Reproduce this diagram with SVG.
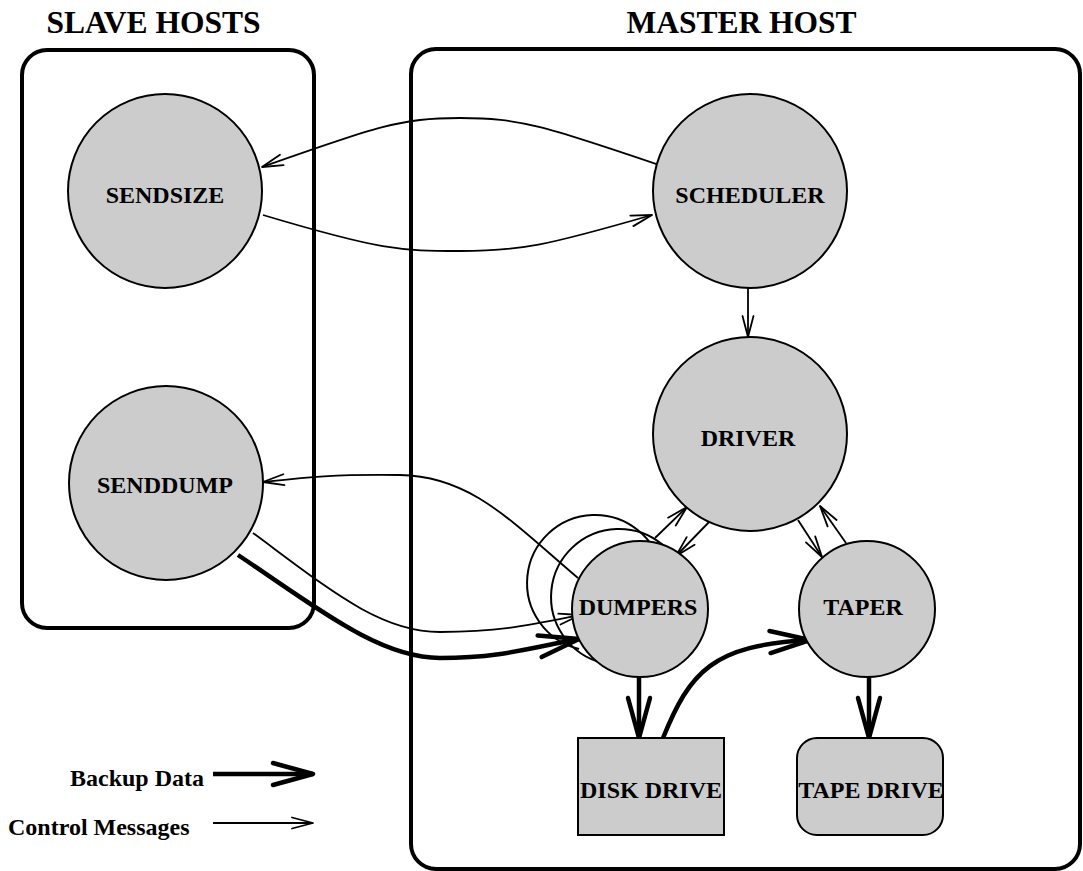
<svg xmlns="http://www.w3.org/2000/svg" width="1083" height="871" viewBox="0 0 1083 871">
  <style>
    text { font-family: "Liberation Serif", "Times New Roman", serif; font-weight: bold; fill: #000; }
    .title { font-size: 31.5px; text-anchor: middle; }
    .label { font-size: 24px; text-anchor: middle; }
    .legend { font-size: 24px; }
    .host { fill: none; stroke: #000; stroke-width: 4; }
    .proc { fill: #cccccc; stroke: #000; stroke-width: 2; }
    .ghost { fill: none; stroke: #000; stroke-width: 2; }
    .ctl { fill: none; stroke: #000; stroke-width: 1.8; marker-end: url(#headThin); }
    .data { fill: none; stroke: #000; stroke-width: 4.5; marker-end: url(#headThick); }
  </style>
  <defs>
    <marker id="headThin" markerUnits="userSpaceOnUse" viewBox="-24 -8 26 16" markerWidth="26" markerHeight="16" refX="0" refY="0" orient="auto" overflow="visible">
      <path d="M-21,-5.5 L0,0 L-21,5.5" fill="none" stroke="#000" stroke-width="1.8" stroke-linecap="round" stroke-linejoin="round"/>
    </marker>
    <marker id="headThick" markerUnits="userSpaceOnUse" viewBox="-44 -14 48 28" markerWidth="48" markerHeight="28" refX="0" refY="0" orient="auto" overflow="visible">
      <path d="M-40,-11 L0,0 L-40,11" fill="none" stroke="#000" stroke-width="4.5" stroke-linecap="round" stroke-linejoin="round"/>
    </marker>
  </defs>

  <!-- host enclosures -->
  <g id="slave-hosts">
    <rect class="host" x="22" y="50" width="292" height="578" rx="25" ry="25"/>
    <text class="title" x="153.5" y="33">SLAVE HOSTS</text>
  </g>
  <g id="master-host">
    <rect class="host" x="411" y="49" width="669" height="820" rx="25" ry="25"/>
    <text class="title" x="741.5" y="33">MASTER HOST</text>
  </g>

  <!-- stacked outlines behind the dumpers: several dumper processes -->
  <g id="dumper-stack">
    <path class="ghost" d="M579,649 A68,68 0 1,1 662,571"/>
    <path class="ghost" d="M603,663 A68,68 0 1,1 686,585"/>
  </g>

  <!-- connectors -->
  <g id="connectors">
    <!-- scheduler <-> sendsize -->
    <path class="ctl" d="M665,167 C545,126 520,118 460,118 C400,118 375,127 262,167"/>
    <path class="ctl" d="M263,215 C380,250 400,251 460,251 C520,251 545,246 652,215"/>
    <!-- scheduler -> driver -->
    <path class="ctl" d="M748,288 L748,337"/>
    <!-- driver <-> dumpers -->
    <path class="ctl" d="M655,538 L687,507"/>
    <path class="ctl" d="M712,519 L676,556"/>
    <!-- driver <-> taper -->
    <path class="ctl" d="M798,520 L822,557"/>
    <path class="ctl" d="M846,543 L820,506"/>
    <!-- dumpers -> senddump (control) -->
    <path class="ctl" d="M578,578 C510,520 470,476 400,475 C330,474 300,478 263,482"/>
    <!-- senddump -> dumpers (control) -->
    <path class="ctl" d="M253,533 C330,590 380,632 440,632 C500,632 530,625 580,615"/>
    <!-- senddump -> dumpers (backup data) -->
    <path class="data" d="M238,555 C320,610 380,658 440,658 C500,658 530,648 579,639"/>
    <!-- dumpers -> disk, disk -> taper, taper -> tape -->
    <path class="data" d="M639,677 L639,738"/>
    <path class="data" d="M663,738 C690,672 712,645 810,640"/>
    <path class="data" d="M869,677 L869,738"/>
  </g>

  <!-- process nodes -->
  <g id="sendsize">
    <circle class="proc" cx="165" cy="191" r="97"/>
    <text class="label" x="165" y="203">SENDSIZE</text>
  </g>
  <g id="senddump">
    <circle class="proc" cx="166" cy="483" r="97"/>
    <text class="label" x="165" y="493">SENDDUMP</text>
  </g>
  <g id="scheduler">
    <circle class="proc" cx="750" cy="191" r="97"/>
    <text class="label" x="750" y="203">SCHEDULER</text>
  </g>
  <g id="driver">
    <circle class="proc" cx="750" cy="434" r="97"/>
    <text class="label" x="748" y="446">DRIVER</text>
  </g>
  <g id="dumpers">
    <circle class="proc" cx="640" cy="609" r="68"/>
    <text class="label" x="638" y="615">DUMPERS</text>
  </g>
  <g id="taper">
    <circle class="proc" cx="867" cy="609" r="68"/>
    <text class="label" x="863" y="615">TAPER</text>
  </g>
  <g id="disk-drive">
    <rect class="proc" x="578" y="738" width="146" height="97"/>
    <text class="label" x="651" y="798">DISK DRIVE</text>
  </g>
  <g id="tape-drive">
    <rect class="proc" x="797" y="738" width="146" height="97" rx="20" ry="20"/>
    <text class="label" x="871" y="798">TAPE DRIVE</text>
  </g>

  <!-- legend -->
  <g id="legend">
    <text class="legend" x="204" y="786" text-anchor="end">Backup Data</text>
    <path class="data" d="M213,774 L313,774"/>
    <text class="legend" x="8" y="835">Control Messages</text>
    <path class="ctl" d="M213,823 L313,823"/>
  </g>
</svg>
